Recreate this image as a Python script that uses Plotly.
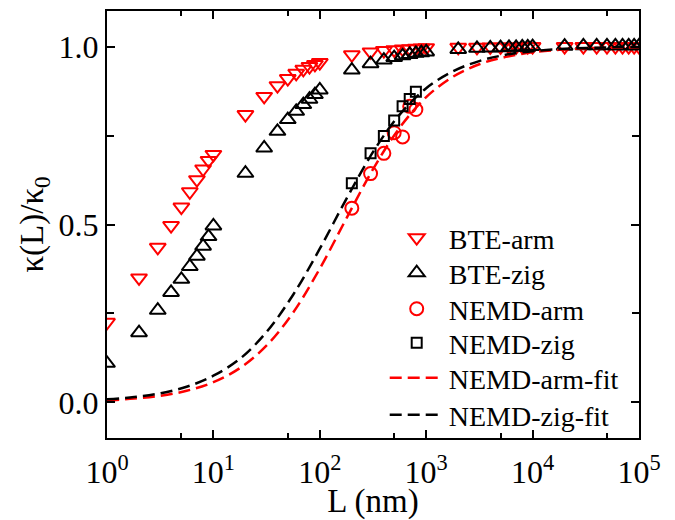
import plotly.graph_objects as go

# ---------------- data ----------------
L_bte = [1, 2, 3, 4, 5, 6, 7, 8, 9, 10,
         20, 30, 40, 50, 60, 70, 80, 90, 100,
         200, 300, 400, 500, 600, 700, 800, 900, 1000,
         2000, 3000, 4000, 5000, 6000, 7000, 8000, 9000, 10000,
         20000, 30000, 40000, 50000, 60000, 70000, 80000, 90000, 100000]
bte_arm = [0.225, 0.35, 0.436, 0.497, 0.549, 0.592, 0.626, 0.656, 0.68, 0.697,
           0.809, 0.86, 0.89, 0.91, 0.925, 0.936, 0.944, 0.95, 0.955,
           0.977, 0.985, 0.989, 0.991, 0.993, 0.994, 0.995, 0.996, 0.997,
           0.998, 0.998, 0.999, 0.999, 0.999, 0.999, 1.0, 1.0, 1.0,
           1.0, 1.0, 1.0, 1.0, 1.0, 1.0, 1.0, 1.0, 1.0]
bte_zig = [0.11, 0.196, 0.259, 0.309, 0.346, 0.382, 0.411, 0.439, 0.466, 0.496,
           0.644, 0.715, 0.762, 0.795, 0.818, 0.837, 0.852, 0.865, 0.878,
           0.934, 0.952, 0.962, 0.969, 0.974, 0.978, 0.981, 0.983, 0.985,
           0.992, 0.995, 0.996, 0.997, 0.998, 0.998, 0.999, 0.999, 1.0,
           1.001, 1.002, 1.002, 1.002, 1.002, 1.002, 1.002, 1.002, 1.002]

L_nemd = [200, 300, 400, 500, 600, 700, 800]
nemd_arm = [0.546, 0.643, 0.70, 0.758, 0.746, 0.832, 0.823]
nemd_zig = [0.616, 0.70, 0.749, 0.792, 0.832, 0.853, 0.873]

L_fit = [1, 1.8, 3.2, 5.6, 10, 18, 32, 56, 100, 180, 320, 560,
         1000, 1800, 3200, 5600, 10000, 18000, 32000, 56000, 100000]
fit_arm = [0.005, 0.0107, 0.0189, 0.0326, 0.0568, 0.0978, 0.1616, 0.252, 0.376,
           0.520, 0.658, 0.771, 0.858, 0.916, 0.951, 0.971, 0.984, 0.991,
           0.995, 0.997, 0.998]
fit_zig = [0.009, 0.015, 0.026, 0.044, 0.075, 0.124, 0.200, 0.302, 0.432,
           0.575, 0.706, 0.808, 0.883, 0.931, 0.960, 0.977, 0.987, 0.993,
           0.996, 0.998, 0.999]

x_tickvals = [1, 10, 100, 1000, 10000, 100000]
x_ticktext = ["10<sup>0</sup>", "10<sup>1</sup>", "10<sup>2</sup>",
              "10<sup>3</sup>", "10<sup>4</sup>", "10<sup>5</sup>"]
x_minor = [5, 50, 500, 5000, 50000]
y_tickvals = [0.0, 0.5, 1.0]
y_ticktext = ["0.0", "0.5", "1.0"]
y_minor = [0.25, 0.75]

RED = "#ff0000"
BLACK = "#000000"
FONT = "Liberation Serif"

fig = go.Figure()

fig.add_trace(go.Scatter(
    x=L_bte, y=bte_arm, mode="markers", name="BTE-arm", legend="legend",
    marker=dict(symbol="triangle-down-open", size=14, color=RED,
                line=dict(width=2, color=RED))))
fig.add_trace(go.Scatter(
    x=L_bte, y=bte_zig, mode="markers", name="BTE-zig", legend="legend2",
    marker=dict(symbol="triangle-up-open", size=14, color=BLACK,
                line=dict(width=2, color=BLACK))))
fig.add_trace(go.Scatter(
    x=L_nemd, y=nemd_arm, mode="markers", name="NEMD-arm", legend="legend3",
    marker=dict(symbol="circle-open", size=13, color=RED,
                line=dict(width=2, color=RED))))
fig.add_trace(go.Scatter(
    x=L_nemd, y=nemd_zig, mode="markers", name="NEMD-zig", legend="legend4",
    marker=dict(symbol="square-open", size=10, color=BLACK,
                line=dict(width=2, color=BLACK))))
fig.add_trace(go.Scatter(
    x=L_fit, y=fit_arm, mode="lines", name="NEMD-arm-fit", legend="legend5",
    line=dict(color=RED, width=2.5, dash="12px,6px", shape="spline")))
fig.add_trace(go.Scatter(
    x=L_fit, y=fit_zig, mode="lines", name="NEMD-zig-fit", legend="legend6",
    line=dict(color=BLACK, width=2.5, dash="12px,6px", shape="spline")))

axis_common = dict(
    showline=True, linecolor="black", linewidth=2, mirror="allticks",
    ticks="inside", ticklen=8, tickwidth=1.5, tickcolor="black",
    showgrid=False, zeroline=False, automargin=False,
)

fig.update_xaxes(
    type="log", range=[0, 5],
    tickmode="array", tickvals=x_tickvals, ticktext=x_ticktext,
    tickfont=dict(family=FONT, size=32, color="black"),
    ticklabelstandoff=5,
    minor=dict(tickmode="array", tickvals=x_minor, ticks="inside",
               ticklen=5, tickwidth=1.5, tickcolor="black", showgrid=False),
    title=dict(text="L (nm)", font=dict(family=FONT, size=33, color="black"),
               standoff=7),
    **axis_common)

fig.update_yaxes(
    range=[-0.1, 1.1],
    tickmode="array", tickvals=y_tickvals, ticktext=y_ticktext,
    tickfont=dict(family=FONT, size=32, color="black"),
    minor=dict(tickmode="array", tickvals=y_minor, ticks="inside",
               ticklen=7, tickwidth=1.5, tickcolor="black", showgrid=False),
    title=dict(text="κ(L)/κ<sub>0</sub>",
               font=dict(family=FONT, size=33, color="black"), standoff=5),
    **axis_common)

# legend rows (paper coordinates)
row_y = [0.4684, 0.3864, 0.3021, 0.2225, 0.1405, 0.0539]
leg_x = 0.522
layout_legends = {}
for i, yy in enumerate(row_y):
    key = "legend" if i == 0 else f"legend{i + 1}"
    layout_legends[key] = dict(
        x=leg_x, y=yy, xanchor="left", yanchor="middle",
        bgcolor="rgba(0,0,0,0)", borderwidth=0,
        font=dict(family=FONT, size=28, color="black"),
        itemwidth=54, tracegroupgap=0)

# the page adds an 8px body margin, so the figure is sized/offset to compensate
fig.update_layout(
    width=667, height=512,
    margin=dict(l=99, r=36, t=3, b=82),
    paper_bgcolor="white", plot_bgcolor="white",
    font=dict(family=FONT, color="black"),
    showlegend=True,
    **layout_legends)

fig.write_html("out.html")
